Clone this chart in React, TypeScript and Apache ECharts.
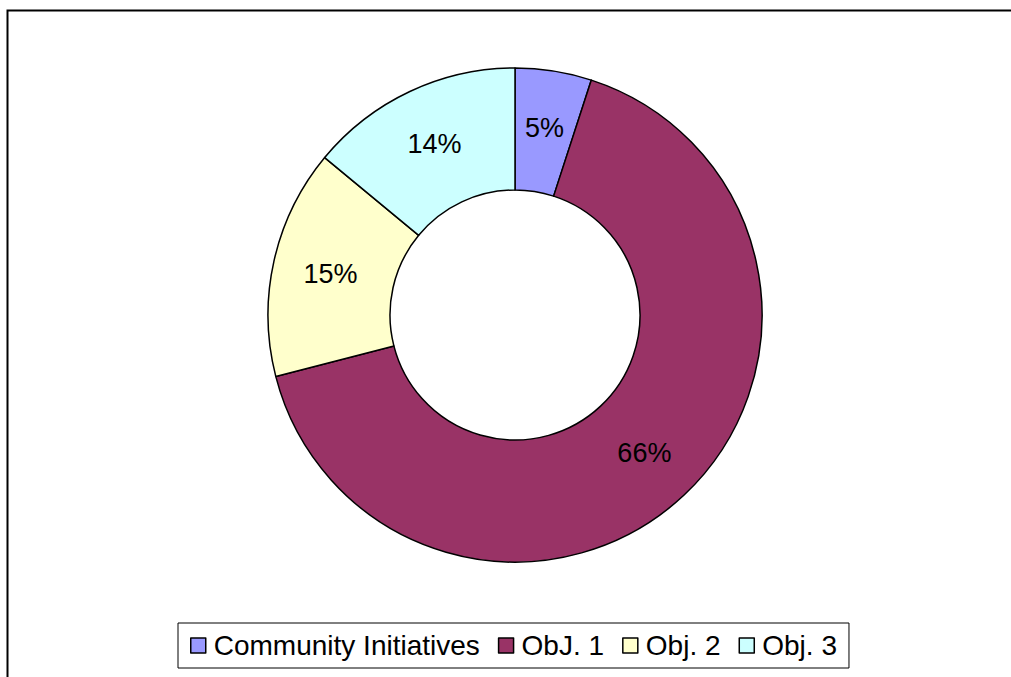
import React, { useEffect, useRef } from "react";
import * as echarts from "echarts";

const categories = ["Community Initiatives", "ObJ. 1", "Obj. 2", "Obj. 3"];
const values = [5, 66, 15, 14];
const colors = ["#9999FF", "#993366", "#FFFFCC", "#CCFFFF"];

export default function App() {
  const ref = useRef<HTMLDivElement>(null);
  useEffect(() => {
    const chart = echarts.init(ref.current!, null, { renderer: "svg" });
    chart.setOption({
      animation: false,
      backgroundColor: "#ffffff",
      graphic: [
        {
          type: "rect",
          shape: { x: 7.5, y: 10.5, width: 1020, height: 700 },
          style: { fill: "none", stroke: "#000", lineWidth: 2 },
          silent: true,
        },
      ],
      legend: {
        top: 623,
        left: 178,
        orient: "horizontal",
        borderColor: "#000",
        borderWidth: 1,
        padding: [8, 12, 8, 12],
        itemWidth: 15,
        itemHeight: 15,
        itemGap: 18,
        icon: "rect",
        backgroundColor: "#fff",
        textStyle: {
          fontFamily: "Liberation Sans, Arial",
          fontSize: 28,
          color: "#000",
          lineHeight: 29,
          padding: [0, 0, 0, 3],
        },
        data: categories.map((c, i) => ({
          name: c,
          itemStyle: { color: colors[i], borderColor: "#000", borderWidth: 1.5 },
        })),
      },
      series: [
        {
          type: "pie",
          center: [515, 315],
          radius: [125, 247],
          startAngle: 90,
          clockwise: true,
          avoidLabelOverlap: false,
          label: {
            show: true,
            position: "inside",
            formatter: (p: any) => Math.round(p.percent) + "%",
            fontFamily: "Liberation Sans, Arial",
            fontSize: 27,
            color: "#000",
          },
          labelLine: { show: false },
          itemStyle: { borderColor: "#000", borderWidth: 1.5 },
          emphasis: { disabled: true },
          data: categories.map((c, i) => ({
            name: c,
            value: values[i],
            itemStyle: { color: colors[i] },
          })),
        },
      ],
    });
    return () => chart.dispose();
  }, []);
  return (
    <div
      ref={ref}
      style={{ position: "absolute", left: 0, top: 0, width: 1011, height: 677 }}
    />
  );
}
